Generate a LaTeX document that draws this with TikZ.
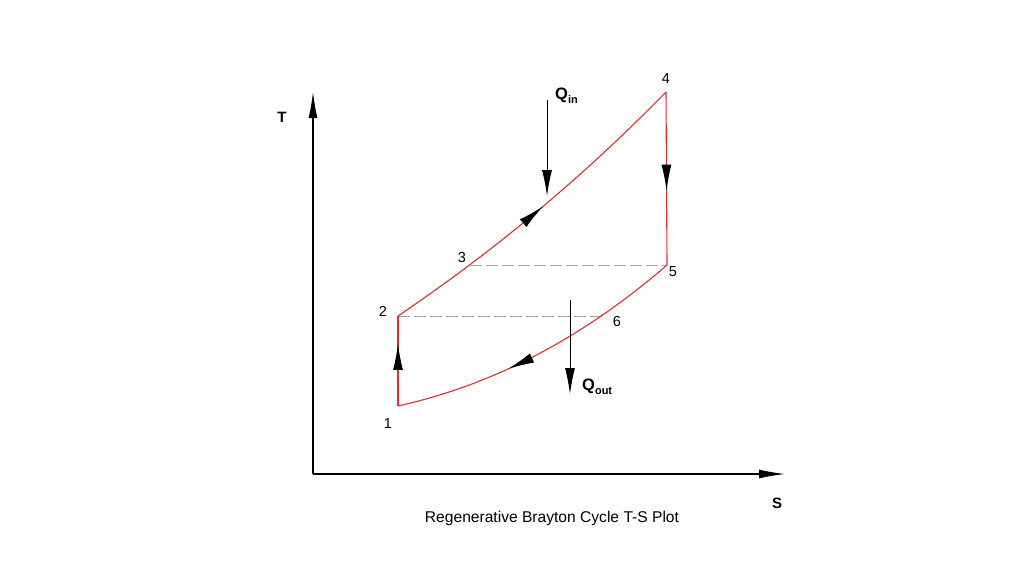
\documentclass[tikz,border=0pt]{standalone}
\usepackage{fontspec}
\setmainfont{Liberation Sans}
\usetikzlibrary{arrows.meta, decorations.markings}
\definecolor{cyclered}{RGB}{222,48,48}
\newcommand{\qsub}[1]{\raisebox{-0.45ex}{\fontsize{11}{12}\selectfont #1}}

\begin{document}
\begin{tikzpicture}[x=1pt, y=-1pt,
    axis/.style={line width=1.2pt, -{Latex[length=26pt, width=9pt]}},
    heat/.style={line width=1pt, -{Latex[length=26pt, width=10pt]}},
    proc/.style={draw=cyclered, line width=1.1pt},
    regen/.style={draw=gray!70, line width=0.7pt, dash pattern=on 12pt off 4pt},
    midarrow/.style={postaction={decorate, decoration={markings,
        mark=at position #1 with {\arrow[black]{Latex[length=26pt, width=10pt]}}}}},
    lbl/.style={font=\fontsize{14.5}{16}\selectfont},
    blbl/.style={font=\fontsize{15}{16}\selectfont\bfseries},
    qlbl/.style={font=\fontsize{16.5}{18}\selectfont\bfseries, anchor=west, inner sep=0pt}]
  \useasboundingbox (0,0) rectangle (1024,576);
  % axes
  \coordinate (o) at (313,474);
  \coordinate (tend) at (313,92);
  \coordinate (send) at (785,474);
  \draw [axis] (o) -- (tend);
  \draw [axis] (o) -- (send);
  \node [blbl] (tlabel) at (282,117) {T};
  \node [blbl] (slabel) at (777,503) {S};
  % states
  \coordinate (p1) at (398,406);
  \coordinate (p2) at (398,316);
  \coordinate (p3) at (470,265);
  \coordinate (p4) at (666,92);
  \coordinate (p5) at (667,265);
  \coordinate (p6) at (602,316);
  % regenerator
  \draw [regen] (p3) -- (p5);
  \draw [regen] (p2) -- (p6);
  % cycle
  \draw [proc, midarrow=0.69] (p1) -- (p2);
  \draw [proc, midarrow=0.52] (p2) .. controls (488,255) and (576,184) .. (p4);
  \draw [proc, midarrow=0.57] (p4) -- (p5);
  \draw [proc, midarrow=0.62] (p5) .. controls (578,342) and (488,386) .. (p1);
  % heat in / out
  \coordinate (qintop) at (547,100);
  \coordinate (qinbot) at (547,196);
  \coordinate (qouttop) at (570,300);
  \coordinate (qoutbot) at (570,394);
  \draw [heat] (qintop) -- (qinbot);
  \draw [heat] (qouttop) -- (qoutbot);
  \node [qlbl] (qin) at (555,96) {Q\qsub{in}};
  \node [qlbl] (qout) at (582,387) {Q\qsub{out}};
  % labels
  \node [lbl] (n1) at (388,424) {1};
  \node [lbl] (n2) at (383,311) {2};
  \node [lbl] (n3) at (462,258) {3};
  \node [lbl] (n4) at (666,79) {4};
  \node [lbl] (n5) at (673,272) {5};
  \node [lbl] (n6) at (617,322) {6};
  \node [font=\fontsize{15.6}{18}\selectfont] (caption) at (552,518) {Regenerative Brayton Cycle T-S Plot};
\end{tikzpicture}
\end{document}
